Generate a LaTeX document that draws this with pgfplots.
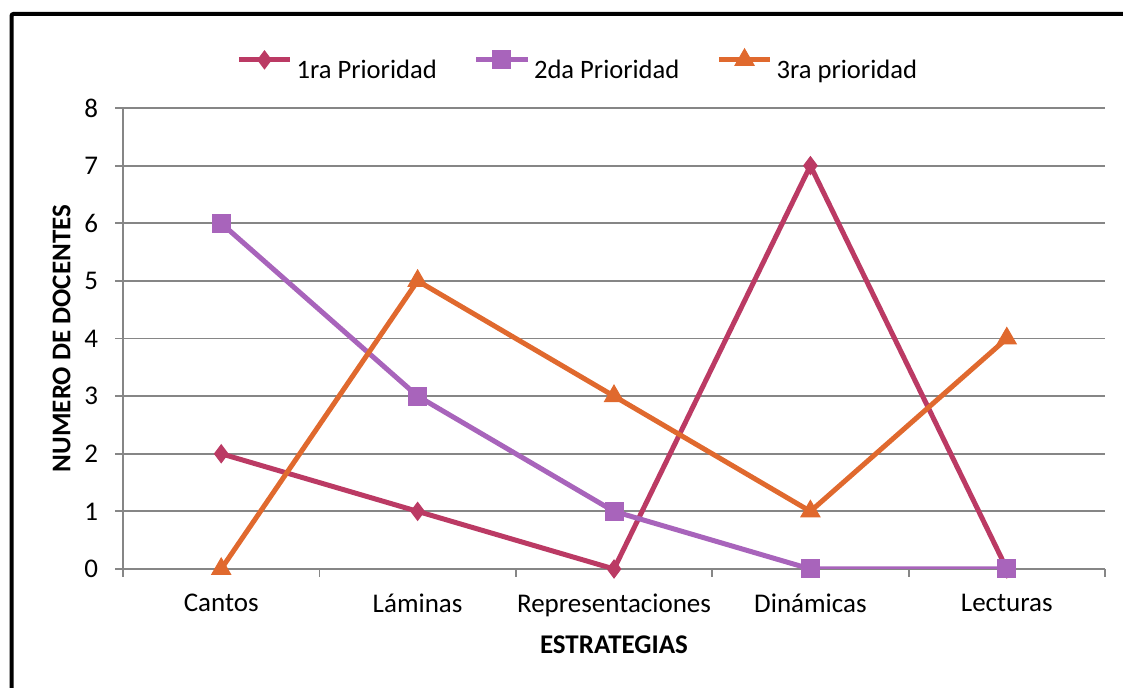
\documentclass[border=0pt]{standalone}
\usepackage{pgfplots}
\pgfplotsset{compat=1.18}
\usepackage{fontspec}
\setmainfont{Carlito}
\definecolor{cA}{RGB}{187,58,100}
\definecolor{cB}{RGB}{168,100,187}
\definecolor{cC}{RGB}{224,105,46}
\definecolor{gridc}{RGB}{134,134,134}
\begin{document}
\begin{tikzpicture}
\useasboundingbox (0,0) rectangle (561.5pt,344pt);
\begin{scope}
\clip (0,0) rectangle (561.5pt,344pt);
\draw[line width=2pt,rounded corners=1pt] (5.75pt,-5pt) -- (5.75pt,337pt) -- (570pt,337pt);
\end{scope}
\begin{axis}[
  at={(61.5pt,59.5pt)}, anchor=south west,
  scale only axis, width=491pt, height=230.5pt,
  xmin=-0.5, xmax=4.5, ymin=0, ymax=8,
  axis x line*=bottom, axis y line*=left,
  axis line style={gridc, line width=0.9pt, -},
  xtick={0,1,2,3,4},
  xticklabels={Cantos,Láminas,Representaciones,Dinámicas,Lecturas},
  minor xtick={-0.5,0.5,1.5,2.5,3.5,4.5},
  ytick={0,1,...,8},
  ymajorgrids, major grid style={gridc, line width=0.9pt},
  tick style={gridc, line width=0.9pt},
  x tick style={draw=none},
  minor x tick style={draw=gridc},
  tick align=outside,
  major tick length=4pt, minor tick length=4pt,
  tick label style={font=\fontsize{13.5}{15}\selectfont, text=black},
  /pgf/number format/assume math mode=true,
  xticklabel style={yshift=-5pt},
  yticklabel style={xshift=-5pt},
  xlabel={\textbf{ESTRATEGIAS}},
  ylabel={\textbf{NUMERO DE DOCENTES}},
  label style={font=\fontsize{13.5}{15}\selectfont},
  xlabel style={yshift=-2.5pt},
  ylabel style={yshift=0pt},
  legend columns=3,
  legend style={at={(0,1.0)}, anchor=south west, draw=none, fill=none,
    xshift=53.5pt, yshift=9pt, font=\fontsize{13.3}{15}\selectfont,
    /tikz/every even column/.append style={column sep=16.5pt}},
  legend image code/.code={%
    \draw[#1, mark repeat=2, mark phase=2, yshift=5.5pt] plot coordinates {(0cm,0cm) (0.45cm,0cm) (0.9cm,0cm)};},
]
\addplot[cA, line width=2.5pt, mark=diamond*, mark size=4.5pt, mark options={solid, fill=cA, line width=0.5pt}]
  coordinates {(0,2) (1,1) (2,0) (3,7) (4,0)};
\addlegendentry{1ra Prioridad}
\addplot[cB, line width=2.5pt, mark=square*, mark size=4.5pt, mark options={solid, fill=cB, line width=0.5pt}]
  coordinates {(0,6) (1,3) (2,1) (3,0) (4,0)};
\addlegendentry{2da Prioridad}
\addplot[cC, line width=2.5pt, mark=triangle*, mark size=5.5pt, mark options={solid, fill=cC, line width=0.5pt}]
  coordinates {(0,0) (1,5) (2,3) (3,1) (4,4)};
\addlegendentry{3ra prioridad}
\end{axis}
\end{tikzpicture}
\end{document}
